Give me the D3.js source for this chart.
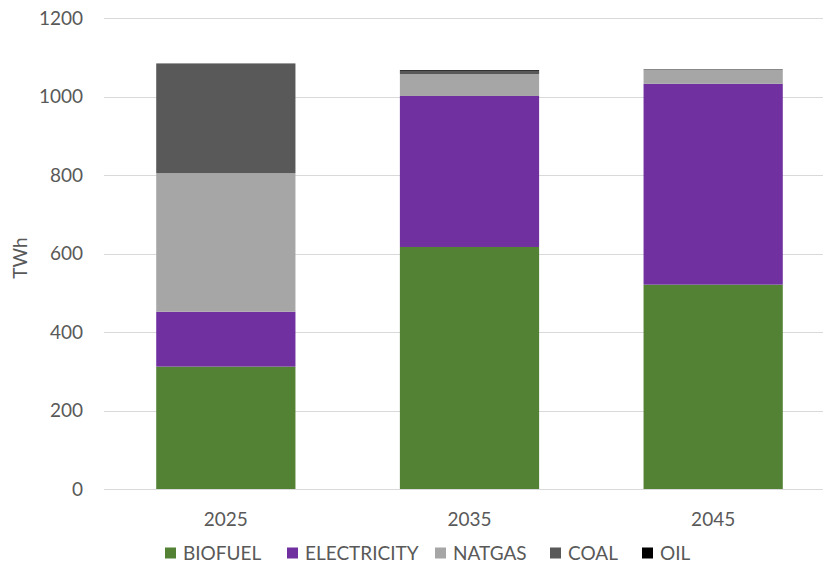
<!DOCTYPE html>
<html><head><meta charset="utf-8">
<script src="https://cdnjs.cloudflare.com/ajax/libs/d3/7.8.5/d3.min.js"></script>
<style>body{margin:0;background:#fff}svg{display:block}text{font-family:Lato,"Open Sans",sans-serif;fill:#595959}</style>
</head><body>
<svg id="c" width="823" height="563"></svg>
<script>
const years = ["2025", "2035", "2045"];
const seriesNames = ["BIOFUEL", "ELECTRICITY", "NATGAS", "COAL", "OIL"];
const biofuel = [312, 617, 521];
const electricity = [140, 385, 512];
const natgas = [353, 56, 35];
const coal = [280, 8, 2];
const oil = [0, 2, 0];
const yTicks = [0, 200, 400, 600, 800, 1000, 1200];
const colors = ["#548235", "#7030a0", "#a6a6a6", "#595959", "#000000"];

const values = [biofuel, electricity, natgas, coal, oil];
const rows = years.map((y, i) => {
  const r = {year: y};
  seriesNames.forEach((s, k) => r[s] = values[k][i]);
  return r;
});
const stacked = d3.stack().keys(seriesNames)(rows);

const svg = d3.select("#c");
const x = d3.scaleBand().domain(years).range([104, 835]).paddingInner(0.4286).paddingOuter(0.2143);
const y = d3.scaleLinear().domain([0, 1200]).range([489, 18.3]);
const fs = 19;

svg.append("g").selectAll("line").data(yTicks).join("line")
  .attr("x1", 104).attr("x2", 835)
  .attr("y1", d => Math.round(y(d)) + 0.5).attr("y2", d => Math.round(y(d)) + 0.5)
  .attr("stroke", "#d9d9d9").attr("stroke-width", 1);

svg.append("g").selectAll("text").data(yTicks).join("text")
  .attr("x", 83).attr("y", d => y(d)).attr("dy", "0.35em")
  .attr("text-anchor", "end").attr("font-size", fs).text(d => d);

svg.append("g").selectAll("g").data(stacked).join("g")
  .attr("fill", (d, i) => colors[i])
  .selectAll("rect").data(d => d).join("rect")
  .attr("x", d => x(d.data.year)).attr("width", x.bandwidth())
  .attr("y", d => y(d[1])).attr("height", d => Math.max(0, y(d[0]) - y(d[1])));

svg.append("g").selectAll("text").data(years).join("text")
  .attr("x", d => x(d) + x.bandwidth() / 2).attr("y", 519).attr("dy", "0.35em")
  .attr("text-anchor", "middle").attr("font-size", fs).text(d => d);

svg.append("text").attr("transform", "translate(20,258) rotate(-90)")
  .attr("text-anchor", "middle").attr("dy", "0.35em").attr("font-size", fs).text("TWh");

const legX = [165, 287, 435, 550, 642];
const leg = svg.append("g").selectAll("g").data(seriesNames).join("g")
  .attr("transform", (d, i) => `translate(${legX[i]},553)`);
leg.append("rect").attr("x", 0).attr("y", -5.5).attr("width", 11).attr("height", 11)
  .attr("fill", (d, i) => colors[i]);
leg.append("text").attr("x", 18).attr("y", 0).attr("dy", "0.35em").attr("font-size", fs).text(d => d);
</script>
</body></html>
